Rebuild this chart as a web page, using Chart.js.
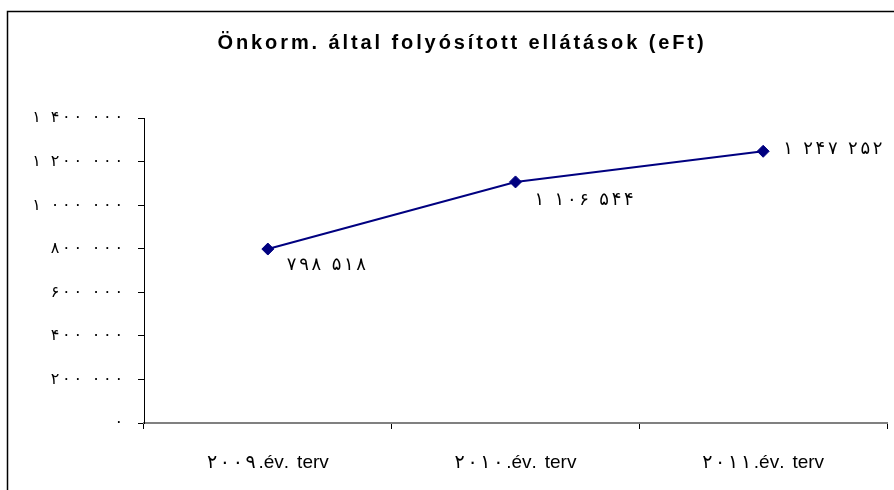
<!DOCTYPE html>
<html>
<head>
<meta charset="utf-8">
<script src="https://cdn.jsdelivr.net/npm/chart.js@4/dist/chart.umd.min.js"></script>
<style>
  html, body { margin: 0; padding: 0; background: #ffffff; }
  #wrap { width: 894px; height: 490px; position: relative; }
</style>
</head>
<body>
<div id="wrap"><canvas id="c" width="894" height="490"></canvas></div>
<script>
const chartTitle = 'Önkorm. által folyósított ellátások (eFt)';
const categories = ['۲۰۰۹.év. terv', '۲۰۱۰.év. terv', '۲۰۱۱.év. terv'];
const values = [798518, 1106544, 1247252];
const valueLabels = ['۷۹۸ ۵۱۸', '۱ ۱۰۶ ۵۴۴', '۱ ۲۴۷ ۲۵۲'];
const yTickValues = [0, 200000, 400000, 600000, 800000, 1000000, 1200000, 1400000];
const yTickLabels = ['۰', '۲۰۰ ۰۰۰', '۴۰۰ ۰۰۰', '۶۰۰ ۰۰۰', '۸۰۰ ۰۰۰', '۱ ۰۰۰ ۰۰۰', '۱ ۲۰۰ ۰۰۰', '۱ ۴۰۰ ۰۰۰'];

const FONT = "'Liberation Sans', 'DejaVu Sans', Arial, sans-serif";

function isSpacedChar(c) {
  const code = c.charCodeAt(0);
  return (code >= 0x06F0 && code <= 0x06F9) || c === ' ';
}

// draws text glyph by glyph, adding a gap after Arabic-script digits and spaces
// (canvas letterSpacing is ignored for Arabic-script characters)
function drawSpaced(ctx, text, x, y, gap, align, digitsOnly) {
  const chars = Array.from(String(text));
  const widths = chars.map(c => ctx.measureText(c).width);
  const gaps = chars.map((c, i) => (i === chars.length - 1) ? 0 : ((!digitsOnly || isSpacedChar(c)) ? gap : 0));
  const total = widths.reduce((a, b) => a + b, 0) + gaps.reduce((a, b) => a + b, 0);
  let cx = align === 'right' ? x - total : (align === 'center' ? x - total / 2 : x);
  ctx.textAlign = 'left';
  chars.forEach((c, i) => { ctx.fillText(c, cx, y); cx += widths[i] + gaps[i]; });
}

const framePlugin = {
  id: 'frame',
  beforeDraw(chart) {
    const ctx = chart.ctx;
    ctx.save();
    ctx.fillStyle = '#ffffff';
    ctx.fillRect(0, 0, chart.width, chart.height);
    ctx.strokeStyle = '#000000';
    ctx.lineWidth = 1.5;
    ctx.strokeRect(7.5, 11.5, 1000, 1000);
    ctx.fillStyle = '#000000';
    ctx.font = 'bold 20px ' + FONT;
    ctx.letterSpacing = '2.9px';
    ctx.textAlign = 'center';
    ctx.textBaseline = 'alphabetic';
    ctx.fillText(chartTitle, 462, 49);
    ctx.letterSpacing = '0px';
    ctx.restore();
  }
};

function patchLabels(chart, scale, gap, digitsOnly) {
  scale.drawLabels = function (area) {
    const ctx = chart.ctx;
    const items = this.getLabelItems(area);
    ctx.save();
    for (const it of items) {
      const o = it.options;
      ctx.font = it.font.string;
      ctx.fillStyle = o.color;
      ctx.textBaseline = o.textBaseline || 'middle';
      const [tx, ty] = o.translation;
      drawSpaced(ctx, it.label, tx, ty + (it.textOffset || 0), gap, o.textAlign, digitsOnly);
    }
    ctx.restore();
  };
}

const spacingPlugin = {
  id: 'tickSpacing',
  afterLayout(chart) {
    if (!chart._labelsPatched) {
      patchLabels(chart, chart.scales.y, 2.7, false);
      patchLabels(chart, chart.scales.x, 2.7, true);
      chart._labelsPatched = true;
    }
  }
};

const labelOffsets = [[19, 16], [19, 18], [20, -2]];
const valueLabelPlugin = {
  id: 'valueLabels',
  afterDatasetsDraw(chart) {
    const ctx = chart.ctx;
    const meta = chart.getDatasetMeta(0);
    ctx.save();
    ctx.fillStyle = '#000000';
    ctx.font = '18px ' + FONT;
    ctx.textBaseline = 'middle';
    meta.data.forEach((pt, i) => {
      const o = labelOffsets[i];
      drawSpaced(ctx, valueLabels[i], pt.x + o[0], pt.y + o[1], 2.7, 'left', false);
    });
    ctx.restore();
  }
};

new Chart(document.getElementById('c'), {
  type: 'line',
  data: {
    labels: categories,
    datasets: [{
      data: values,
      borderColor: '#000080',
      backgroundColor: '#000080',
      borderWidth: 2,
      pointStyle: 'rectRot',
      pointRadius: 6,
      pointHoverRadius: 6,
      pointBackgroundColor: '#000080',
      pointBorderColor: '#000080',
      pointBorderWidth: 1,
      tension: 0,
      fill: false
    }]
  },
  options: {
    responsive: false,
    animation: false,
    devicePixelRatio: 1,
    layout: { padding: { top: 118, right: 1, left: 0, bottom: 0 } },
    plugins: {
      legend: { display: false },
      title: { display: false },
      tooltip: { enabled: false }
    },
    scales: {
      x: {
        type: 'category',
        offset: true,
        afterFit(scale) { scale.height = 67; scale.paddingLeft = 0; scale.paddingRight = 0; },
        grid: {
          offset: true,
          drawOnChartArea: false,
          drawTicks: true,
          tickLength: 6,
          tickColor: '#000000',
          tickWidth: 1
        },
        border: { display: true, color: '#808080', width: 2 },
        ticks: {
          color: '#000000',
          font: { family: FONT, size: 19 },
          padding: 22,
          maxRotation: 0,
          autoSkip: false
        }
      },
      y: {
        min: 0,
        max: 1400000,
        afterFit(scale) { scale.width = 144; scale.paddingTop = 0; scale.paddingBottom = 0; },
        afterBuildTicks(scale) { scale.ticks = yTickValues.map(v => ({ value: v })); },
        grid: {
          drawOnChartArea: false,
          drawTicks: true,
          tickLength: 6,
          tickColor: '#000000',
          tickWidth: 1
        },
        border: { display: true, color: '#000000', width: 1 },
        ticks: {
          color: '#000000',
          font: { family: FONT, size: 16 },
          padding: 15,
          callback(value, index) { return yTickLabels[index]; }
        }
      }
    }
  },
  plugins: [framePlugin, spacingPlugin, valueLabelPlugin]
});
</script>
</body>
</html>
